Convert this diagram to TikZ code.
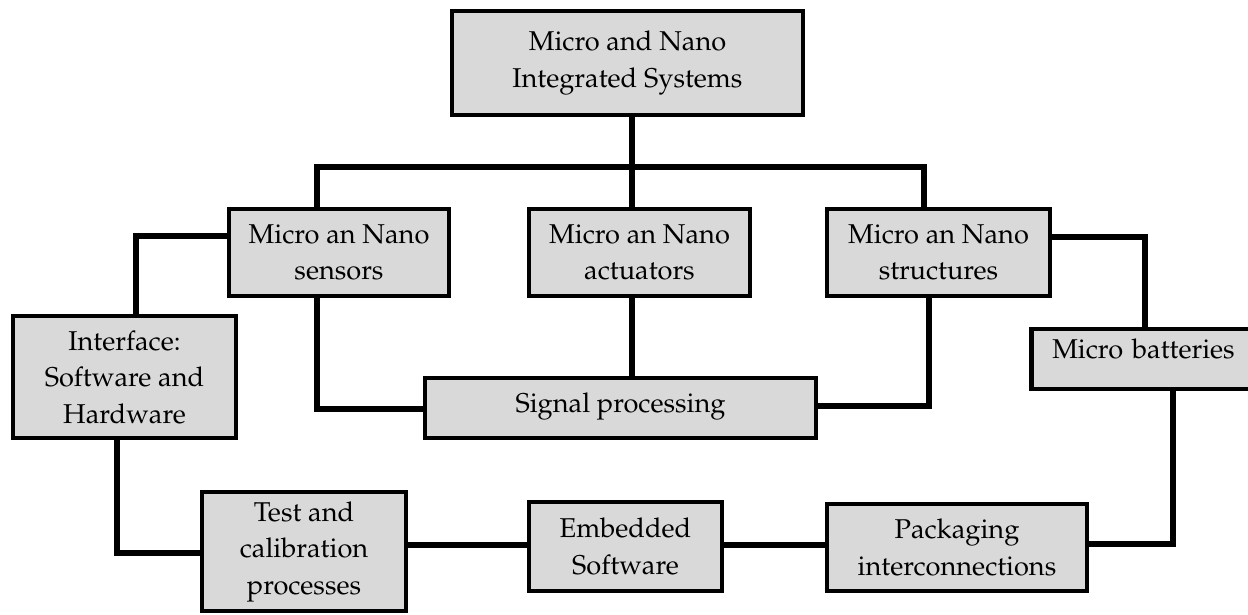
\documentclass[tikz,border=0pt]{standalone}
\usepackage[T1]{fontenc}
\usepackage{mathpazo}
\definecolor{boxgray}{RGB}{217,217,217}
\tikzset{
  box/.style={draw=black, line width=4.5pt, fill=boxgray, rectangle, inner sep=0pt,
    align=center, font=\fontsize{27.2}{36.5}\selectfont},
  link/.style={draw=black, line width=6.5pt, line join=miter},
}
\begin{document}
\begin{tikzpicture}[x=1pt,y=-1pt]
\useasboundingbox (0,0) rectangle (1248,614);
\node[box, minimum width=351, minimum height=104] (top) at (627.5,63) {Micro and Nano\\Integrated Systems};
\node[box, minimum width=220, minimum height=87] (sen) at (339,252.5) {Micro an Nano\\sensors};
\node[box, minimum width=221, minimum height=87] (act) at (639.5,252.5) {Micro an Nano\\actuators};
\node[box, minimum width=223, minimum height=87] (str) at (938.5,252.5) {Micro an Nano\\structures};
\node[box, minimum width=223, minimum height=122] (int) at (124.5,377) {Interface:\\Software and\\Hardware};
\node[box, minimum width=391, minimum height=60, text height=19pt, text depth=11pt] (sig) at (620.5,408) {Signal processing};
\node[box, align=left, text width=218pt, inner xsep=21pt, minimum height=60, text height=21pt, text depth=23pt, anchor=west] (bat) at (1029,359) {Micro batteries};
\node[box, minimum width=204, minimum height=119] (test) at (304,551.5) {Test and\\calibration\\processes};
\node[box, minimum width=193, minimum height=89] (emb) at (625.5,546.5) {Embedded\\Software};
\node[box, minimum width=260, minimum height=87] (pack) at (957,547.5) {Packaging\\interconnections};
\coordinate (bus) at (632,167);
\draw[link] (top.south -| bus) -- (act.north -| bus);
\draw[link] (sen.north -| 317,0) |- (bus) -| (str.north -| 924,0);
\draw[link] (sen.west |- 0,236) -| (int.north -| 136,0);
\draw[link] (str.east |- 0,237) -| (bat.north -| 1145,0);
\draw[link] (sen.south -| 317,0) |- (sig.west |- 0,409);
\draw[link] (act.south -| bus) -- (sig.north -| bus);
\draw[link] (str.south -| 929,0) |- (sig.east |- 0,406);
\draw[link] (int.south -| 117,0) |- (test.west |- 0,553);
\draw[link] (test.east |- 0,545) -- (emb.west |- 0,545);
\draw[link] (emb.east |- 0,545) -- (pack.west |- 0,545);
\draw[link] (bat.south -| 1173,0) |- (pack.east |- 0,544);
\end{tikzpicture}
\end{document}
